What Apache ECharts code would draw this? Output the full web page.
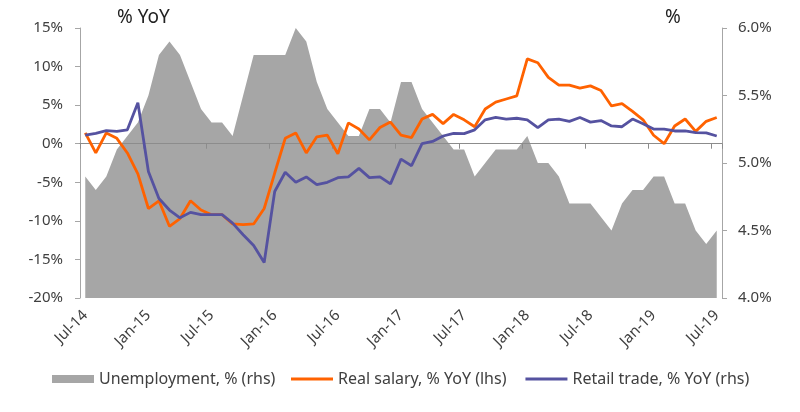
<!DOCTYPE html>
<html>
<head>
<meta charset="utf-8">
<script src="https://cdn.jsdelivr.net/npm/echarts@6/dist/echarts.min.js"></script>
<style>
html,body{margin:0;padding:0;background:#fff;}
#c{width:800px;height:412px;}
</style>
</head>
<body>
<div id="c"></div>
<script>
var categories = [
 'Jul-14','Aug-14','Sep-14','Oct-14','Nov-14','Dec-14',
 'Jan-15','Feb-15','Mar-15','Apr-15','May-15','Jun-15','Jul-15','Aug-15','Sep-15','Oct-15','Nov-15','Dec-15',
 'Jan-16','Feb-16','Mar-16','Apr-16','May-16','Jun-16','Jul-16','Aug-16','Sep-16','Oct-16','Nov-16','Dec-16',
 'Jan-17','Feb-17','Mar-17','Apr-17','May-17','Jun-17','Jul-17','Aug-17','Sep-17','Oct-17','Nov-17','Dec-17',
 'Jan-18','Feb-18','Mar-18','Apr-18','May-18','Jun-18','Jul-18','Aug-18','Sep-18','Oct-18','Nov-18','Dec-18',
 'Jan-19','Feb-19','Mar-19','Apr-19','May-19','Jun-19','Jul-19'
];
var unemployment = [
 4.9,4.8,4.9,5.1,5.2,5.3,
 5.5,5.8,5.9,5.8,5.6,5.4,5.3,5.3,5.2,5.5,5.8,5.8,
 5.8,5.8,6.0,5.9,5.6,5.4,5.3,5.2,5.2,5.4,5.4,5.3,
 5.6,5.6,5.4,5.3,5.2,5.1,5.1,4.9,5.0,5.1,5.1,5.1,
 5.2,5.0,5.0,4.9,4.7,4.7,4.7,4.6,4.5,4.7,4.8,4.8,
 4.9,4.9,4.7,4.7,4.5,4.4,4.5
];
var realSalary = [
 1.4,-1.2,1.4,0.7,-1.2,-3.9,
 -8.4,-7.4,-10.7,-9.7,-7.4,-8.6,-9.2,-9.2,-10.4,-10.5,-10.4,-8.4,
 -3.8,0.7,1.4,-1.2,0.9,1.1,-1.3,2.7,1.9,0.5,2.1,2.8,
 1.1,0.8,3.2,3.8,2.6,3.8,3.1,2.2,4.5,5.4,5.8,6.2,
 11.0,10.5,8.6,7.6,7.6,7.2,7.5,6.9,4.9,5.2,4.2,3.1,
 1.1,0.0,2.3,3.2,1.6,2.9,3.4
];
var retailTrade = [
 1.1,1.35,1.7,1.6,1.8,5.3,
 -3.6,-7.1,-8.6,-9.6,-8.9,-9.2,-9.2,-9.2,-10.3,-11.8,-13.2,-15.4,
 -6.2,-3.7,-5.0,-4.3,-5.3,-5.0,-4.4,-4.3,-3.2,-4.4,-4.3,-5.2,
 -2.0,-2.85,0.0,0.3,1.0,1.35,1.3,1.8,3.1,3.4,3.2,3.3,
 3.1,2.1,3.1,3.2,2.9,3.4,2.8,3.0,2.3,2.2,3.2,2.6,
 1.9,1.9,1.65,1.65,1.45,1.4,1.0
];
var seriesNames = ['Unemployment, % (rhs)','Real salary, % YoY (lhs)','Retail trade, % YoY (rhs)'];
var leftTitle = '% YoY';
var rightTitle = '%';

var FONT = 'Noto Sans';
var TXT = '#404040';
var chart = echarts.init(document.getElementById('c'), null, {renderer:'canvas'});
chart.setOption({
  animation:false,
  textStyle:{fontFamily:FONT},
  title:[
    {text:leftTitle,left:117,top:8,padding:0,textStyle:{fontFamily:FONT,fontSize:19,fontWeight:'normal',color:'#222'}},
    {text:rightTitle,left:665,top:8,padding:0,textStyle:{fontFamily:FONT,fontSize:19,fontWeight:'normal',color:'#222'}}
  ],
  grid:{left:80,right:78,top:28,bottom:114,containLabel:false},
  legend:[
    {top:371,left:52,padding:0,itemWidth:42,itemHeight:8,itemGap:14,
     textStyle:{fontFamily:FONT,fontSize:16,color:TXT},
     data:[{name:seriesNames[0],icon:'rect'}]},
    {top:371,left:291,padding:0,itemWidth:42,itemHeight:3,itemGap:19,
     textStyle:{fontFamily:FONT,fontSize:16,color:TXT},
     data:[{name:seriesNames[1],icon:'rect'},{name:seriesNames[2],icon:'rect'}]}
  ],
  xAxis:[
    {type:'category',data:categories,boundaryGap:true,position:'bottom',
     axisLine:{show:false,onZero:false},axisTick:{show:false},splitLine:{show:false},
     axisLabel:{interval:5,rotate:45,margin:15,fontFamily:FONT,fontSize:15,color:TXT}},
    {type:'category',data:categories,boundaryGap:true,position:'bottom',z:2,
     axisLine:{show:true,onZero:true,onZeroAxisIndex:0,lineStyle:{color:'#8c8c8c',width:1}},
     axisTick:{show:true,interval:5,length:5,lineStyle:{color:'#8c8c8c'}},
     axisLabel:{show:false},splitLine:{show:false}}
  ],
  yAxis:[
    {type:'value',min:-20,max:15,interval:5,position:'left',
     axisLine:{show:true,lineStyle:{color:'#a6a6a6'}},
     axisTick:{show:true,length:5,lineStyle:{color:'#a6a6a6'}},
     splitLine:{show:false},
     axisLabel:{formatter:'{value}%',margin:17,fontFamily:FONT,fontSize:15,color:TXT}},
    {type:'value',min:4,max:6,interval:0.5,position:'right',
     axisLine:{show:true,lineStyle:{color:'#a6a6a6'}},
     axisTick:{show:true,length:5,lineStyle:{color:'#a6a6a6'}},
     splitLine:{show:false},
     axisLabel:{formatter:function(v){return v.toFixed(1)+'%';},margin:16,fontFamily:FONT,fontSize:15,color:TXT}}
  ],
  series:[
    {name:seriesNames[0],type:'line',xAxisIndex:0,yAxisIndex:1,data:unemployment,z:1,
     symbol:'none',itemStyle:{color:'#a6a6a6'},lineStyle:{width:0,color:'#a6a6a6'},
     areaStyle:{color:'#a6a6a6',opacity:1,origin:'start'}},
    {name:seriesNames[1],type:'line',xAxisIndex:0,yAxisIndex:0,data:realSalary,z:3,
     symbol:'none',itemStyle:{color:'#ff6200'},lineStyle:{width:2.8,color:'#ff6200'}},
    {name:seriesNames[2],type:'line',xAxisIndex:0,yAxisIndex:0,data:retailTrade,z:3,
     symbol:'none',itemStyle:{color:'#5552a0'},lineStyle:{width:2.8,color:'#5552a0'}}
  ]
});
</script>
</body>
</html>
